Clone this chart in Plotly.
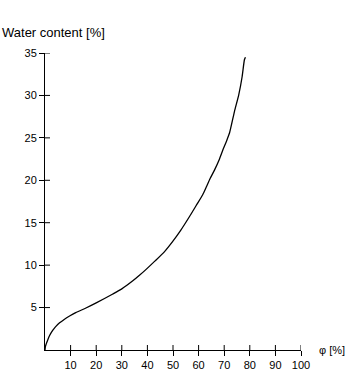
import plotly.graph_objects as go

# data
phi = [0, 0.2, 1.1, 1.8, 3, 4, 5.7, 7.5, 9.6, 12, 16, 20, 26.5, 30, 34.3, 36.9,
       39.5, 43, 46.7, 49.9, 53, 56.4, 59, 61.6, 63, 64.5, 66.2, 68, 69.5, 71,
       72.1, 74, 75.7, 77, 77.9, 78.3]
water = [0, 0.45, 1.2, 1.7, 2.3, 2.7, 3.2, 3.6, 4.0, 4.4, 4.95, 5.55, 6.6, 7.2,
         8.15, 8.8, 9.5, 10.5, 11.6, 12.8, 14.1, 15.7, 17.0, 18.3, 19.2, 20.2,
         21.2, 22.4, 23.6, 24.7, 25.6, 28.1, 30.1, 32.2, 34.2, 34.5]
x_ticks = [10, 20, 30, 40, 50, 60, 70, 80, 90, 100]
y_ticks = [5, 10, 15, 20, 25, 30, 35]
x_range = [0, 100]
y_range = [0, 35]

FONT = "Liberation Sans, Arial, sans-serif"

fig = go.Figure()
fig.add_trace(go.Scatter(x=phi, y=water, mode="lines",
                         line=dict(color="black", width=1.3, shape="spline", smoothing=0.6),
                         hoverinfo="skip", showlegend=False))

axis_common = dict(showgrid=False, zeroline=False, showline=True, linecolor="black",
                   linewidth=1, tickcolor="black", ticklen=5, tickwidth=1)

# inner halves of the crossing tick marks, anchored at tick values
shapes = []
for v in x_ticks:
    shapes.append(dict(type="line", xref="x", yref="y", ysizemode="pixel",
                       yanchor=y_range[0], x0=v, x1=v, y0=0, y1=5,
                       line=dict(color="black", width=1)))
for v in y_ticks:
    shapes.append(dict(type="line", xref="x", yref="y", xsizemode="pixel",
                       xanchor=x_range[0], y0=v, y1=v, x0=0, x1=5,
                       line=dict(color="black", width=1)))

fig.update_layout(
    width=351, height=389,
    margin=dict(l=45, r=50, t=53, b=39),
    paper_bgcolor="white", plot_bgcolor="white",
    showlegend=False,
    xaxis=dict(range=x_range, tickvals=x_ticks, ticks="outside",
               tickfont=dict(family=FONT, size=11, color="black"), **axis_common),
    yaxis=dict(range=y_range, tickvals=y_ticks, ticks="outside",
               tickfont=dict(family=FONT, size=11, color="black"), **axis_common),
    shapes=shapes,
    annotations=[
        dict(text="Water content [%]", xref="paper", yref="paper",
             x=-45/256, y=1 + 21/297.5, xanchor="left", yanchor="middle",
             showarrow=False, font=dict(family=FONT, size=13, color="black")),
        dict(text="φ [%]", xref="paper", yref="paper",
             x=1 + 16/256, y=0, xanchor="left", yanchor="middle",
             showarrow=False, font=dict(family=FONT, size=11, color="black")),
    ],
)

fig.write_html("out.html")
